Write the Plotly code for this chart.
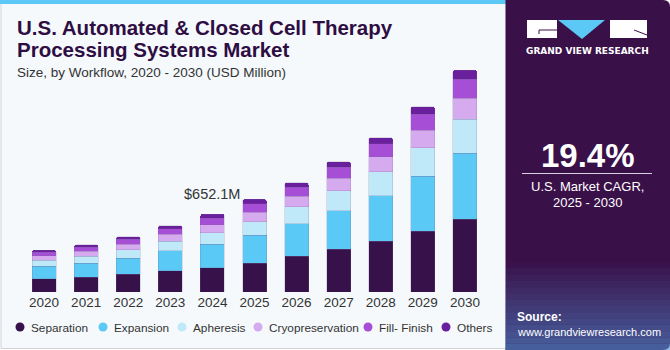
import plotly.graph_objects as go

years = ["2020", "2021", "2022", "2023", "2024", "2025", "2026", "2027", "2028", "2029", "2030"]
segments = ["Separation", "Expansion", "Apheresis", "Cryopreservation", "Fill- Finish", "Others"]
separation = [111, 125, 148, 176, 204, 242, 301, 357, 424, 507, 610]
expansion = [106, 117, 136, 167, 197, 232, 270, 323, 381, 462, 552]
apheresis = [50, 56, 69, 81, 95, 114, 142, 167, 201, 237, 284]
cryopreservation = [36, 44, 48, 59, 67, 79, 89, 104, 123, 148, 176]
fill_finish = [31, 33, 42, 44, 53, 72, 75, 94, 111, 134, 159]
others = [17, 19, 19, 28, 36, 37, 36, 44, 50, 61, 75]
colors = ["#37114a", "#5bc9f5", "#bfe9f9", "#d5aaee", "#a64fd6", "#6a1f9c"]
highlight_year = "2024"
highlight_label = "$652.1M"

series = [separation, expansion, apheresis, cryopreservation, fill_finish, others]

W, H = 670, 350
def px(x):
    return x / W
def py(y):
    return 1 - y / H

FONT = "Liberation Sans"

fig = go.Figure()
for name, vals, col in zip(segments, series, colors):
    fig.add_trace(go.Bar(
        x=years, y=vals, name=name,
        marker=dict(color=col, line=dict(width=0.6, color="rgba(120,100,150,0.35)")),
        showlegend=False, hoverinfo="x+y+name"))

shapes = []
# left panel background
shapes.append(dict(type="rect", xref="paper", yref="paper", x0=px(1), x1=px(510), y0=py(348.5), y1=py(1),
                   fillcolor="#f5f9fc", line=dict(color="#cfd3d8", width=1), layer="below"))
# blue top stripe
shapes.append(dict(type="rect", xref="paper", yref="paper", x0=px(0), x1=px(506), y0=py(4), y1=py(0),
                   fillcolor="#5bc8f5", line=dict(width=0), layer="below"))
# right panel
shapes.append(dict(type="path", xref="paper", yref="paper",
                   path=f"M {px(505.5)},{py(0)} L {px(663)},{py(0)} Q {px(670)},{py(0)} {px(670)},{py(7)} "
                        f"L {px(670)},{py(343)} Q {px(670)},{py(350)} {px(663)},{py(350)} L {px(505.5)},{py(350)} Z",
                   fillcolor="#3a1049", line=dict(width=0), layer="below"))
# bottom gradient of right panel
steps = 14
for i in range(steps):
    y0 = 262 + i * (88 / steps)
    y1 = y0 + 88 / steps
    shapes.append(dict(type="rect", xref="paper", yref="paper", x0=px(505.5), x1=px(670), y0=py(y1), y1=py(y0),
                       fillcolor="#4f8fd0", opacity=0.03 + 0.045 * i, line=dict(width=0), layer="below"))
# logo
shapes.append(dict(type="rect", xref="paper", yref="paper", x0=px(527), x1=px(557), y0=py(38), y1=py(20),
                   fillcolor="white", line=dict(width=0)))
shapes.append(dict(type="line", xref="paper", yref="paper", x0=px(539), x1=px(557), y0=py(30), y1=py(30),
                   line=dict(color="#3a1049", width=1)))
shapes.append(dict(type="line", xref="paper", yref="paper", x0=px(539), x1=px(539), y0=py(30), y1=py(34),
                   line=dict(color="#3a1049", width=1)))
shapes.append(dict(type="path", xref="paper", yref="paper",
                   path=f"M {px(558)},{py(20)} L {px(605)},{py(20)} L {px(582)},{py(39)} Z",
                   fillcolor="#5bc8f5", line=dict(width=0)))
shapes.append(dict(type="rect", xref="paper", yref="paper", x0=px(610), x1=px(647), y0=py(38), y1=py(20),
                   fillcolor="white", line=dict(width=0)))
shapes.append(dict(type="line", xref="paper", yref="paper", x0=px(634), x1=px(647), y0=py(30), y1=py(35),
                   line=dict(color="#3a1049", width=1)))
# CAGR divider
shapes.append(dict(type="line", xref="paper", yref="paper", x0=px(522), x1=px(652), y0=py(173.5), y1=py(173.5),
                   line=dict(color="#d8d0e0", width=1)))

annotations = []
def note(text, x, y, size, color, xanchor="left", yanchor="middle", weight="normal", family=FONT):
    annotations.append(dict(text=text, x=px(x), y=py(y), xref="paper", yref="paper", showarrow=False,
                            xanchor=xanchor, yanchor=yanchor, borderpad=0,
                            font=dict(size=size, color=color, family=family, weight=weight)))

note("U.S. Automated &amp; Closed Cell Therapy", 16, 28, 20.5, "#2e0d43", weight="bold")
note("Processing Systems Market", 16, 50, 20.5, "#2e0d43", weight="bold")
note("Size, by Workflow, 2020 - 2030 (USD Million)", 16, 72, 13.5, "#333333")

note("GRAND VIEW RESEARCH", 587, 51, 9, "#ffffff", xanchor="center", weight="bold", family="DejaVu Sans")
note("19.4%", 588, 155, 33, "#ffffff", xanchor="center", weight="bold")
note("U.S. Market CAGR,", 587, 186.5, 13, "#ffffff", xanchor="center")
note("2025 - 2030", 587, 202.5, 13, "#ffffff", xanchor="center")
note("Source:", 516, 316.5, 12, "#ffffff", weight="bold")
note("www.grandviewresearch.com", 516, 331.5, 11, "#ffffff")

# value label on highlighted year
hi = years.index(highlight_year)
total_hi = sum(s[hi] for s in series)
annotations.append(dict(text=highlight_label, x=hi, y=total_hi, xref="x", yref="y", showarrow=False,
                        yanchor="bottom", yshift=10, font=dict(size=14.5, color="#333333", family=FONT)))

# custom legend
legend_x = [20, 103, 182, 258, 368, 446]
for name, col, lx in zip(segments, colors, legend_x):
    shapes.append(dict(type="circle", xref="paper", yref="paper", x0=px(lx - 4.5), x1=px(lx + 4.5),
                       y0=py(327 + 4.5), y1=py(327 - 4.5), fillcolor=col, line=dict(width=0)))
    note(name, lx + 10, 327.5, 11.8, "#333333")

fig.update_layout(
    width=W, height=H, margin=dict(l=0, r=0, t=0, b=0, pad=0), autosize=False,
    paper_bgcolor="#ffffff", plot_bgcolor="rgba(0,0,0,0)",
    barmode="stack", bargap=0.43, barcornerradius=2,
    shapes=shapes, annotations=annotations, showlegend=False,
    xaxis=dict(domain=[px(23), px(486)], type="category", categoryorder="array", categoryarray=years,
               range=[-0.5, len(years) - 0.5], autorange=False, automargin=False,
               showgrid=False, zeroline=False, showline=False,
               ticks="", tickfont=dict(size=13.5, color="#333333", family=FONT), fixedrange=True),
    yaxis=dict(domain=[py(292), py(60)], range=[0, 1940], autorange=False, automargin=False,
               visible=False, fixedrange=True),
    font=dict(family=FONT),
)

fig.write_html("out.html")
